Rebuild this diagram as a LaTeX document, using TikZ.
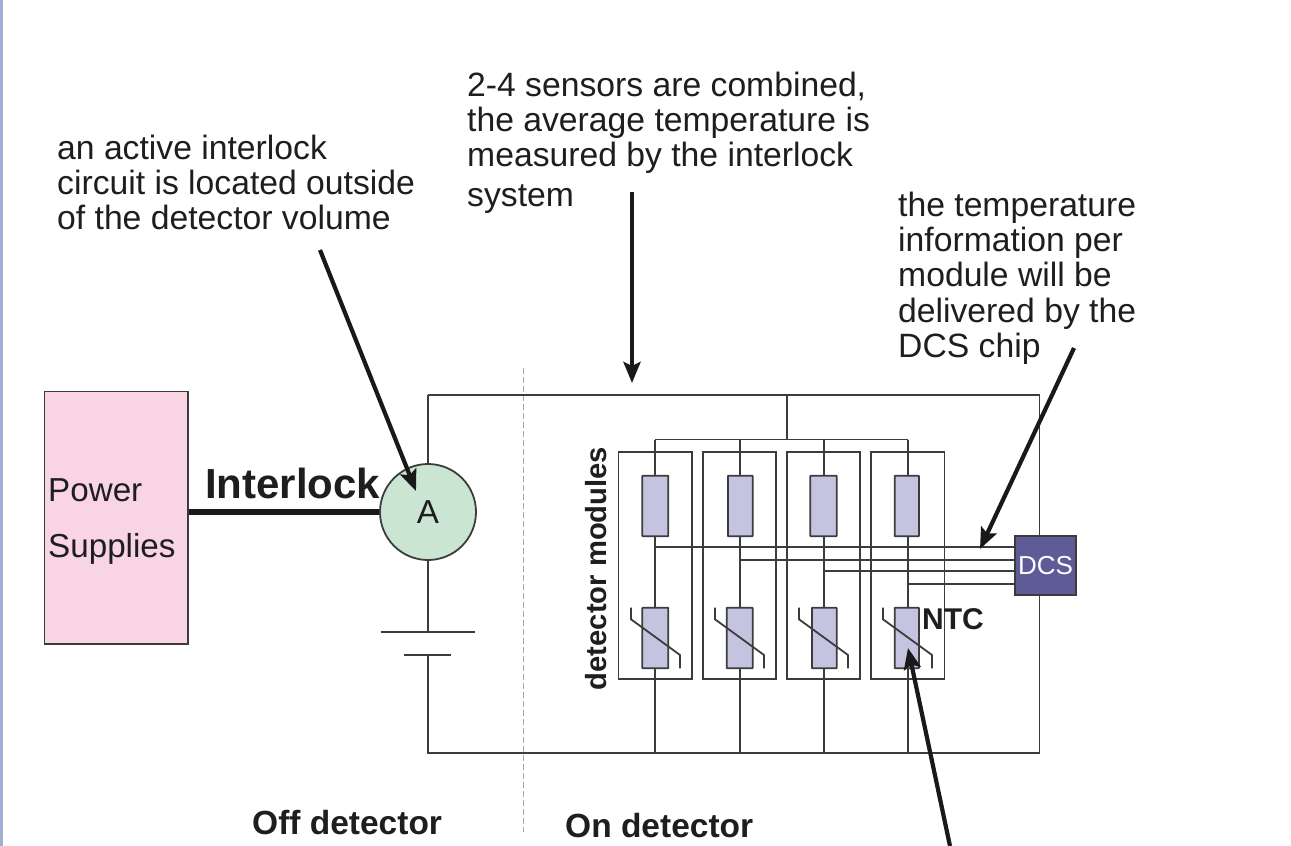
\documentclass[tikz,border=0pt]{standalone}
\usepackage{fontspec}
\setmainfont{Liberation Sans}
\usetikzlibrary{arrows.meta}
\definecolor{wire}{HTML}{3C3C3C}
\definecolor{txt}{HTML}{1E1E1E}
\definecolor{modfill}{HTML}{C5C4E0}
\definecolor{dcsfill}{HTML}{5F5B97}
\definecolor{psfill}{HTML}{F8D4E4}
\definecolor{afill}{HTML}{CBE5D3}
\definecolor{barfill}{HTML}{A3AFD2}
\tikzset{
  x=1pt,y=-1pt,
  wireline/.style={draw=wire,line width=1.8pt},
  modbox/.style={draw=wire,line width=1.8pt,minimum width=73.5pt,minimum height=227pt,inner sep=0pt,fill=none},
  elem/.style={draw=wire,line width=1.8pt,fill=modfill,inner sep=0pt,minimum height=60.5pt,rounded corners=0.5pt},
  callout/.style={draw=black!90,line width=4.2pt,-{Stealth[length=21pt,width=17pt,inset=4pt]}},
  note/.style={anchor=north west,align=left,inner sep=0pt,text=txt,font=\fontsize{33.7}{35}\selectfont},
  boldlab/.style={inner sep=0pt,text=txt,font=\bfseries\fontsize{33.5}{35}\selectfont},
}
\newcommand{\ntcmark}[1]{\draw[wireline] (#1-47,607.7) -- (#1-47,619.3) -- (#1+2,655) -- (#1+2,668.3);}
\begin{document}
\begin{tikzpicture}
\useasboundingbox (0,0) rectangle (1291,846);
\fill[white] (0,0) rectangle (1291,846);
\fill[barfill] (0,0) rectangle (3,846);

% separator
\coordinate (sepT) at (523,368);
\coordinate (sepB) at (523,832);
\draw[black!35,line width=1pt,dash pattern=on 6pt off 3pt] (sepT) -- (sepB);

% wire corners
\coordinate (otl) at (428,395);
\coordinate (otr) at (1039.5,395);
\coordinate (obl) at (428,753);
\coordinate (obr) at (1039.5,753);
\coordinate (otm) at (787,395);
\coordinate (btm) at (787,439.5);
\coordinate (bat1L) at (380.5,631.7);
\coordinate (bat1R) at (475,631.7);
\coordinate (bat1M) at (428,631.7);
\coordinate (bat2L) at (404,655.3);
\coordinate (bat2R) at (451,655.3);
\coordinate (bat2M) at (428,655.3);

% modules
\node[modbox] (m1) at (655.3,565.7) {};
\node[modbox] (m2) at (739.5,565.7) {};
\node[modbox] (m3) at (823.5,565.7) {};
\node[modbox] (m4) at (907.7,565.7) {};

\foreach \i/\x in {1/655.3,2/739.7,3/823.7,4/907.7}{
  \coordinate (top\i) at (\x,439.5);
  \coordinate (bot\i) at (\x,753);
}
\coordinate (s1) at (655.3,547);
\coordinate (s2) at (739.7,560.3);
\coordinate (s3) at (823.7,571.3);
\coordinate (s4) at (907.7,583.7);

% wires behind elements
\draw[wireline] (top1) -- (top4);
\draw[wireline] (otm) -- (btm);
\foreach \i in {1,2,3,4}{\draw[wireline] (top\i) -- (bot\i);}
\draw[wireline] (bat1M |- otl) -- (otr) -- (obr) -- (obl) -- (bat2M);
\draw[wireline] (otl) -- (bat1M);
\draw[wireline] (bat1L) -- (bat1R);
\draw[wireline] (bat2L) -- (bat2R);

% power supply
\node[draw=wire,line width=1.8pt,fill=psfill,minimum width=143.5pt,minimum height=252.5pt,inner sep=0pt] (ps) at (116.2,517.7) {};
\node[anchor=base west,inner sep=0pt,text=txt,font=\fontsize{33.2}{35}\selectfont] (pow) at (48,501) {Power};
\node[anchor=base west,inner sep=0pt,text=txt,font=\fontsize{33.2}{35}\selectfont] (sup) at (48,557) {Supplies};

% ammeter
\node[circle,draw=wire,line width=1.8pt,fill=afill,minimum size=96pt,inner sep=0pt,text=txt,font=\fontsize{33.2}{35}\selectfont] (A) at (428,512) {A};
\draw[black!90,line width=6pt] (ps.east |- A.west) -- (A.west);
\node[boldlab,font=\bfseries\fontsize{42}{44}\selectfont,anchor=base west] (il) at (205,498) {Interlock};

% elements
\node[elem,minimum width=26pt] (r1) at (655.3,506) {};
\node[elem,minimum width=24.7pt] (r2) at (740.3,506) {};
\node[elem,minimum width=26.4pt] (r3) at (823.5,506) {};
\node[elem,minimum width=24.3pt] (r4) at (906.8,506) {};
\node[elem,minimum width=26pt] (n1) at (655.3,638) {};
\node[elem,minimum width=26pt] (n2) at (739.7,638) {};
\node[elem,minimum width=24.7pt] (n3) at (824.3,638) {};
\node[elem,minimum width=24.3pt] (n4) at (906.8,638) {};
\ntcmark{678}
\ntcmark{762}
\ntcmark{846}
\ntcmark{930}

% DCS
\node[draw=wire,line width=1.8pt,fill=dcsfill,minimum width=61pt,minimum height=59pt,inner sep=0pt,text=white,font=\fontsize{26}{28}\selectfont] (dcs) at (1045.5,565.5) {DCS};
\foreach \i in {1,2,3,4}{\draw[wireline] (s\i) -- (s\i -| dcs.west);}

% labels
\node[boldlab,font=\bfseries\fontsize{30}{32}\selectfont,anchor=base west] (ntc) at (922,629) {NTC};
\node[boldlab,font=\bfseries\fontsize{29.2}{32}\selectfont,rotate=90,anchor=base] (dm) at (606,568.5) {detector modules};
\node[boldlab,anchor=base west] (off) at (252,834) {Off detector};
\node[boldlab,anchor=base west] (on) at (565,837) {On detector};

% notes
\node[note] (n-a) at (57,135) {an active interlock\\circuit is located outside\\of the detector volume};
\node[note] (n-b) at (467,71.5) {2-4 sensors are combined,\\the average temperature is\\measured by the interlock};
\node[note] (n-b2) at (467,185) {system};
\node[note,font=\fontsize{33.7}{35.4}\selectfont] (n-c) at (898,191.5) {the temperature\\information per\\module will be\\delivered by the\\DCS chip};

% callouts
\coordinate (a1s) at (320,250);
\coordinate (a1e) at (416,491);
\coordinate (a2s) at (632,192);
\coordinate (a2e) at (632,383);
\coordinate (a3s) at (1074,348);
\coordinate (a3e) at (980,549);
\coordinate (a4s) at (950,846);
\coordinate (a4e) at (908,648);
\draw[callout] (a1s) -- (a1e);
\draw[callout] (a2s) -- (a2e);
\draw[callout] (a3s) -- (a3e);
\draw[callout] (a4s) -- (a4e);
\end{tikzpicture}
\end{document}
